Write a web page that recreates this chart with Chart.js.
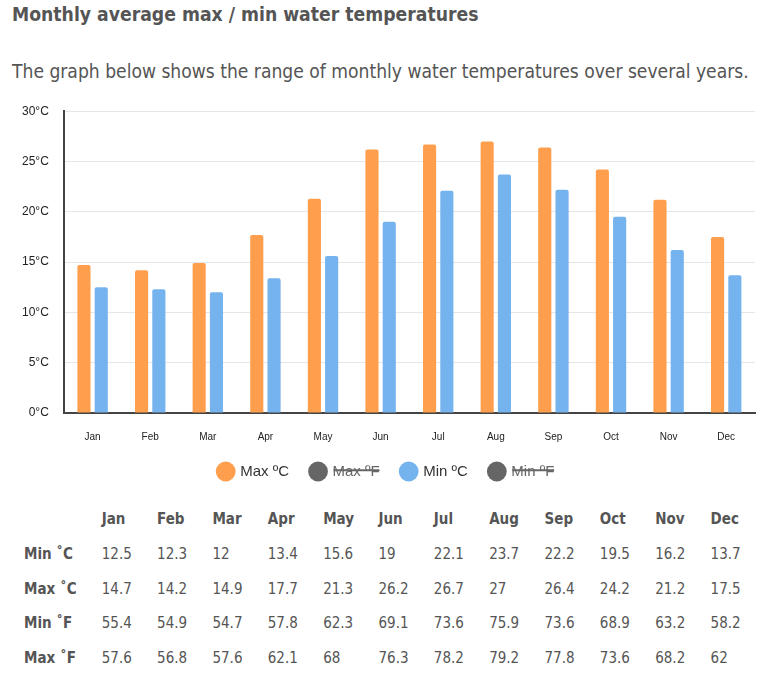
<!DOCTYPE html>
<html>
<head>
<meta charset="utf-8">
<script src="https://cdn.jsdelivr.net/npm/chart.js@4"></script>
<style>
  html, body { margin: 0; padding: 0; background: #fff; }
  body { width: 766px; height: 686px; position: relative; overflow: hidden; font-family: "DejaVu Sans Condensed", "DejaVu Sans", sans-serif; color: #555; }
  h3 { position: absolute; left: 12px; top: 3px; margin: 0; font-size: 19.2px; font-weight: bold; color: #555; line-height: 24px; }
  p.sub { position: absolute; left: 12px; top: 60px; margin: 0; font-size: 19.1px; color: #555; line-height: 24px; }
  #wrap { position: absolute; left: 0; top: 96px; width: 766px; height: 397px; }
  table { position: absolute; left: 24px; top: 502px; border-collapse: collapse; font-size: 15px; color: #555; }
  td, th { padding: 0; height: 34.7px; text-align: left; white-space: nowrap; }
  th { font-weight: bold; }
  td { font-weight: normal; }
  td.lbl { font-weight: bold; width: 78px; }
  td.v, th.v { width: 55.6px; }
</style>
</head>
<body>
<h3>Monthly average max / min water temperatures</h3>
<p class="sub">The graph below shows the range of monthly water temperatures over several years.</p>
<div id="wrap"><canvas id="c"></canvas></div>
<table id="tbl"></table>
<script>
const months = ["Jan","Feb","Mar","Apr","May","Jun","Jul","Aug","Sep","Oct","Nov","Dec"];
const minC = [12.5, 12.3, 12, 13.4, 15.6, 19, 22.1, 23.7, 22.2, 19.5, 16.2, 13.7];
const maxC = [14.7, 14.2, 14.9, 17.7, 21.3, 26.2, 26.7, 27, 26.4, 24.2, 21.2, 17.5];
const minF = [55.4, 54.9, 54.7, 57.8, 62.3, 69.1, 73.6, 75.9, 73.6, 68.9, 63.2, 58.2];
const maxF = [57.6, 56.8, 57.6, 62.1, 68, 76.3, 78.2, 79.2, 77.8, 73.6, 68.2, 62];
const yTicks = [0, 5, 10, 15, 20, 25, 30];
const tableRows = [["Min \u02DAC", minC], ["Max \u02DAC", maxC], ["Min \u02DAF", minF], ["Max \u02DAF", maxF]];

// table
const tbl = document.getElementById('tbl');
let html = '<tr><th class="lbl" style="width:78px"></th>' + months.map(m => '<th class="v">' + m + '</th>').join('') + '</tr>';
tableRows.forEach(r => {
  html += '<tr><td class="lbl">' + r[0] + '</td>' + r[1].map(v => '<td class="v">' + v + '</td>').join('') + '</tr>';
});
tbl.innerHTML = html;

const ORANGE = '#FF9F4E';
const BLUE = '#74B3EE';
const GREY = '#666666';

const SHIFT = 19;
const LEG_DX = 2;
const legendTweak = {
  id: 'legendTweak',
  beforeInit(chart) {
    const lg = chart.legend;
    if (!lg) return;
    const f = lg.fit;
    lg.fit = function() { f.call(this); this.height -= SHIFT; };
  },
  afterLayout(chart) {
    const lg = chart.legend;
    if (!lg) return;
    lg.top -= SHIFT;
    lg.left += LEG_DX; lg.right += LEG_DX;
  }
};

new Chart(document.getElementById('c'), {
  type: 'bar',
  data: {
    labels: months,
    datasets: [
      { label: 'Max \u00BAC', data: maxC, backgroundColor: ORANGE, borderRadius: 2, borderSkipped: 'bottom' },
      { label: 'Max \u00BAF', data: maxF, backgroundColor: GREY, hidden: true, borderRadius: 2 },
      { label: 'Min \u00BAC', data: minC, backgroundColor: BLUE, borderRadius: 2, borderSkipped: 'bottom' },
      { label: 'Min \u00BAF', data: minF, backgroundColor: GREY, hidden: true, borderRadius: 2 }
    ]
  },
  plugins: [legendTweak],
  options: {
    responsive: true,
    maintainAspectRatio: false,
    animation: false,
    categoryPercentage: 0.6,
    barPercentage: 0.76,
    layout: { padding: { left: 14, right: 11, top: 0, bottom: 4 } },
    plugins: {
      tooltip: { enabled: false },
      legend: {
        position: 'bottom',
        labels: {
          usePointStyle: true,
          pointStyle: 'circle',
          boxWidth: 14,
          boxHeight: 14,
          padding: 22,
          color: '#333',
          font: { family: 'Liberation Sans, Arial, sans-serif', size: 15 },
          generateLabels(chart) {
            const items = Chart.defaults.plugins.legend.labels.generateLabels(chart);
            items.forEach(it => { if (it.hidden) it.fontColor = '#666'; });
            return items;
          }
        }
      }
    },
    scales: {
      x: {
        grid: { display: false, drawTicks: false },
        border: { color: '#444', width: 2 },
        ticks: { color: '#222', font: { family: 'Liberation Sans, Arial, sans-serif', size: 10 }, padding: 18 }
      },
      y: {
        min: 0, max: 30,
        afterBuildTicks(axis) { axis.ticks = yTicks.map(v => ({ value: v })); },
        grid: { color: '#e6e6e6', drawTicks: true, tickLength: 7, tickColor: 'rgba(0,0,0,0)' },
        border: { color: '#444', width: 2 },
        ticks: { color: '#222', font: { family: 'Liberation Sans, Arial, sans-serif', size: 12 }, padding: 8, callback: v => v + '\u00B0C' }
      }
    }
  }
});
</script>
</body>
</html>
